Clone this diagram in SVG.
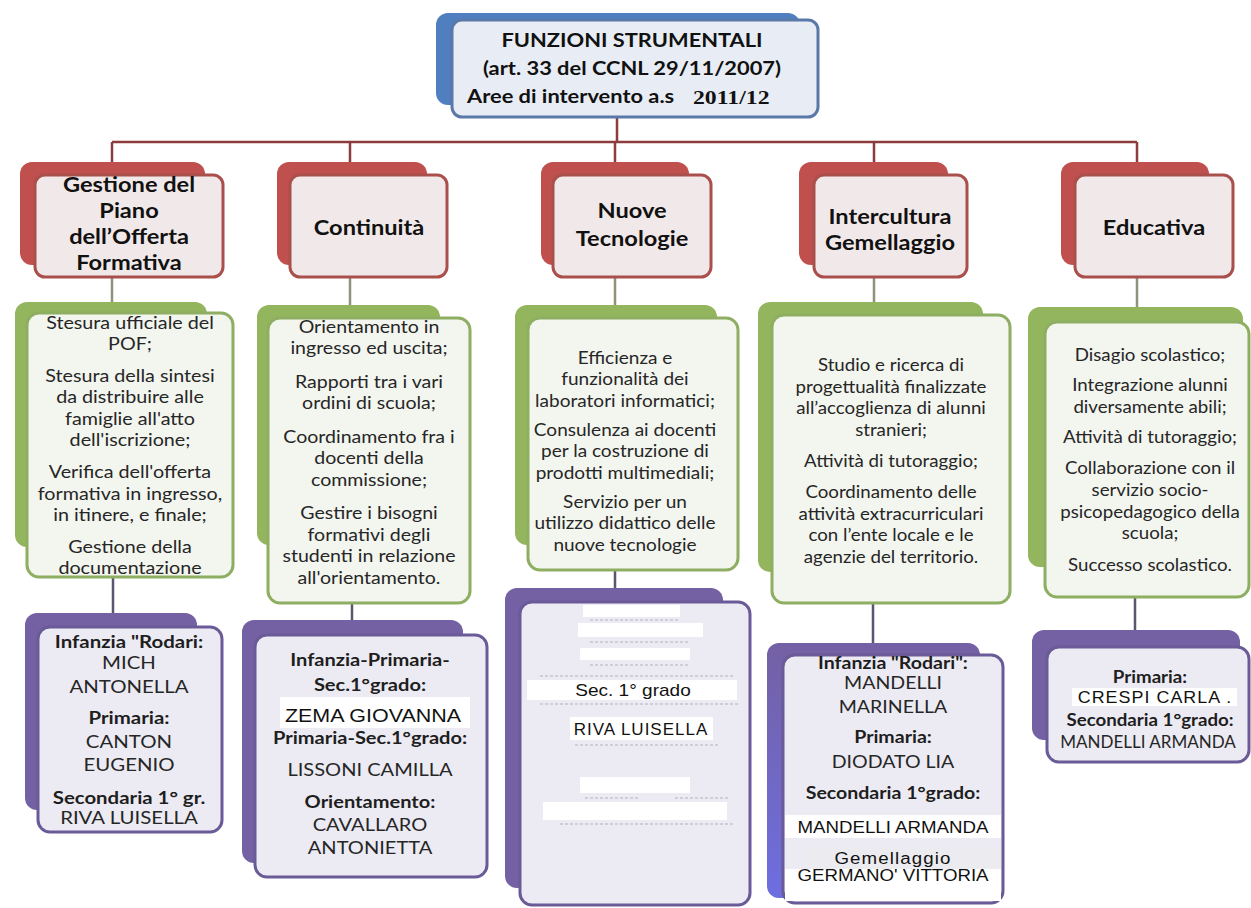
<svg xmlns="http://www.w3.org/2000/svg" width="1251" height="908" viewBox="0 0 1251 908">
<defs>
<style>
.tb{fill:#4f7fbe}
.tf{fill:#e8edf5;stroke:#5a78a8;stroke-width:3}
.hb{fill:#c0504d}
.hf{fill:#f1e9e9;stroke:#a94f4c;stroke-width:3}
.gb{fill:#93b55e}
.gf{fill:#f3f5ef;stroke:#8eae62;stroke-width:3}
.pb{fill:#7461a4}
.pf{fill:#ecebf3;stroke:#6a5a98;stroke-width:3}
.wr{fill:#ffffff}
.c1{stroke:#8c3c3c;stroke-width:2.5;fill:none}
.c2{stroke:#8a957a;stroke-width:2.5;fill:none}
.c3{stroke:#5d5470;stroke-width:2.5;fill:none}
.t{font-family:Lato,"Open Sans",sans-serif;font-weight:700;font-size:19px;fill:#111}
.h{font-family:Lato,"Open Sans",sans-serif;font-weight:700;font-size:20px;fill:#111;text-anchor:middle}
.b{font-family:Lato,"Open Sans",sans-serif;font-size:17px;fill:#262626;text-anchor:middle}
.bb{font-family:Lato,"Open Sans",sans-serif;font-weight:700;font-size:17px;fill:#1e1e1e;text-anchor:middle}
.a{font-family:"Liberation Sans",Arial,sans-serif;font-size:17px;fill:#111;text-anchor:middle}
.ser{font-family:"Liberation Serif","Times New Roman",serif;font-weight:700;font-size:19px;fill:#111}
.fl{stroke:#cfcfdb;stroke-width:2;stroke-dasharray:3 2;fill:none}
</style>
<linearGradient id="p4" x1="0" y1="0" x2="0" y2="1">
<stop offset="0" stop-color="#7461a4"/>
<stop offset="1" stop-color="#6d6ee0"/>
</linearGradient>
</defs>
<rect width="1251" height="908" fill="#ffffff"/>

<g id="connectors">
<path class="c1" d="M617 117 V142 M112 142 H1137 M112 142 V162 M350 142 V162 M615 142 V162 M874 142 V162 M1137 142 V162"/>
<path class="c2" d="M112 277 V302 M350 277 V305 M615 277 V305 M874 277 V302 M1137 277 V307"/>
<path class="c3" d="M113 577 V613 M352 603 V620 M615 570 V588 M873 603 V643 M1135 597 V630"/>
</g>

<g id="top">
<rect class="tb" x="436" y="13" width="364" height="92" rx="12"/>
<rect class="tf" x="452" y="20" width="366" height="97" rx="10"/>
<g transform="translate(632,0) scale(1.15,1)">
<text class="t" x="0" y="47" text-anchor="middle">FUNZIONI STRUMENTALI</text>
<text class="t" x="0" y="75" text-anchor="middle">(art. 33 del CCNL 29/11/2007)</text>
</g>
<g transform="translate(467,0) scale(1.15,1)">
<text class="t" x="0" y="103">Aree di intervento a.s</text>
</g>
<g transform="translate(693,0) scale(1.25,1)">
<text class="ser" x="0" y="104">2011/12</text>
</g>
</g>

<g id="h1">
<rect class="hb" x="20" y="162" width="185" height="103" rx="12"/>
<rect class="hf" x="35" y="175" width="188" height="102" rx="10"/>
<g transform="translate(129,0) scale(1.18,1)">
<text class="h" x="0" y="192">Gestione del</text>
<text class="h" x="0" y="218">Piano</text>
<text class="h" x="0" y="244">dell’Offerta</text>
<text class="h" x="0" y="270">Formativa</text>
</g>
</g>
<g id="h2">
<rect class="hb" x="277" y="162" width="150" height="103" rx="12"/>
<rect class="hf" x="290" y="175" width="157" height="102" rx="10"/>
<g transform="translate(369,0) scale(1.18,1)">
<text class="h" x="0" y="235">Continuità</text>
</g>
</g>
<g id="h3">
<rect class="hb" x="541" y="162" width="148" height="103" rx="12"/>
<rect class="hf" x="553" y="175" width="158" height="102" rx="10"/>
<g transform="translate(632,0) scale(1.18,1)">
<text class="h" x="0" y="218">Nuove</text>
<text class="h" x="0" y="246">Tecnologie</text>
</g>
</g>
<g id="h4">
<rect class="hb" x="799" y="162" width="149" height="103" rx="12"/>
<rect class="hf" x="814" y="175" width="153" height="102" rx="10"/>
<g transform="translate(890,0) scale(1.18,1)">
<text class="h" x="0" y="224">Intercultura</text>
<text class="h" x="0" y="250">Gemellaggio</text>
</g>
</g>
<g id="h5">
<rect class="hb" x="1061" y="162" width="148" height="103" rx="12"/>
<rect class="hf" x="1075" y="175" width="158" height="102" rx="10"/>
<g transform="translate(1154,0) scale(1.18,1)">
<text class="h" x="0" y="235">Educativa</text>
</g>
</g>

<g id="g1">
<rect class="gb" x="15" y="302" width="192" height="245" rx="12"/>
<rect class="gf" x="27" y="313" width="206" height="264" rx="12"/>
<g transform="translate(130,0) scale(1.16,1)">
<text class="b" x="0" y="329">Stesura ufficiale del</text>
<text class="b" x="0" y="350">POF;</text>
<text class="b" x="0" y="382">Stesura della sintesi</text>
<text class="b" x="0" y="403">da distribuire alle</text>
<text class="b" x="0" y="425">famiglie all'atto</text>
<text class="b" x="0" y="446">dell'iscrizione;</text>
<text class="b" x="0" y="478">Verifica dell'offerta</text>
<text class="b" x="0" y="500">formativa in ingresso,</text>
<text class="b" x="0" y="521">in itinere, e finale;</text>
<text class="b" x="0" y="553">Gestione della</text>
<text class="b" x="0" y="574">documentazione</text>
</g>
</g>
<g id="g2">
<rect class="gb" x="257" y="305" width="183" height="240" rx="12"/>
<rect class="gf" x="268" y="318" width="202" height="285" rx="12"/>
<g transform="translate(369,0) scale(1.15,1)">
<text class="b" x="0" y="333">Orientamento in</text>
<text class="b" x="0" y="354">ingresso ed uscita;</text>
<text class="b" x="0" y="388">Rapporti tra i vari</text>
<text class="b" x="0" y="409">ordini di scuola;</text>
<text class="b" x="0" y="443">Coordinamento fra i</text>
<text class="b" x="0" y="464">docenti della</text>
<text class="b" x="0" y="486">commissione;</text>
<text class="b" x="0" y="519">Gestire i bisogni</text>
<text class="b" x="0" y="541">formativi degli</text>
<text class="b" x="0" y="562">studenti in relazione</text>
<text class="b" x="0" y="584">all'orientamento.</text>
</g>
</g>
<g id="g3">
<rect class="gb" x="515" y="305" width="202" height="240" rx="12"/>
<rect class="gf" x="528" y="318" width="210" height="252" rx="12"/>
<g transform="translate(625,0) scale(1.12,1)">
<text class="b" x="0" y="364">Efficienza e</text>
<text class="b" x="0" y="385">funzionalità dei</text>
<text class="b" x="0" y="407">laboratori informatici;</text>
<text class="b" x="0" y="436">Consulenza ai docenti</text>
<text class="b" x="0" y="457">per la costruzione di</text>
<text class="b" x="0" y="479">prodotti multimediali;</text>
<text class="b" x="0" y="508">Servizio per un</text>
<text class="b" x="0" y="529">utilizzo didattico delle</text>
<text class="b" x="0" y="551">nuove tecnologie</text>
</g>
</g>
<g id="g4">
<rect class="gb" x="758" y="302" width="225" height="270" rx="12"/>
<rect class="gf" x="772" y="315" width="238" height="288" rx="12"/>
<g transform="translate(891,0) scale(1.1,1)">
<text class="b" x="0" y="371">Studio e ricerca di</text>
<text class="b" x="0" y="393">progettualità finalizzate</text>
<text class="b" x="0" y="414">all’accoglienza di alunni</text>
<text class="b" x="0" y="436">stranieri;</text>
<text class="b" x="0" y="467">Attività di tutoraggio;</text>
<text class="b" x="0" y="498">Coordinamento delle</text>
<text class="b" x="0" y="520">attività extracurriculari</text>
<text class="b" x="0" y="541">con l’ente locale e le</text>
<text class="b" x="0" y="563">agenzie del territorio.</text>
</g>
</g>
<g id="g5">
<rect class="gb" x="1028" y="307" width="215" height="260" rx="12"/>
<rect class="gf" x="1045" y="322" width="204" height="275" rx="12"/>
<g transform="translate(1150,0) scale(1.1,1)">
<text class="b" x="0" y="361">Disagio scolastico;</text>
<text class="b" x="0" y="391">Integrazione alunni</text>
<text class="b" x="0" y="413">diversamente abili;</text>
<text class="b" x="0" y="443">Attività di tutoraggio;</text>
<text class="b" x="0" y="474">Collaborazione con il</text>
<text class="b" x="0" y="496">servizio socio-</text>
<text class="b" x="0" y="518">psicopedagogico della</text>
<text class="b" x="0" y="539">scuola;</text>
<text class="b" x="0" y="571">Successo scolastico.</text>
</g>
</g>

<g id="p1">
<rect class="pb" x="25" y="613" width="172" height="197" rx="12"/>
<rect class="pf" x="38" y="627" width="184" height="205" rx="12"/>
<g transform="translate(129,0) scale(1.2,1)">
<text class="bb" x="0" y="648">Infanzia "Rodari:</text>
<text class="b" x="0" y="669">MICH</text>
<text class="b" x="0" y="693">ANTONELLA</text>
<text class="bb" x="0" y="724">Primaria:</text>
<text class="b" x="0" y="748">CANTON</text>
<text class="b" x="0" y="771">EUGENIO</text>
<text class="bb" x="0" y="804">Secondaria 1° gr.</text>
<text class="b" x="0" y="824">RIVA LUISELLA</text>
</g>
</g>
<g id="p2">
<rect class="pb" x="242" y="620" width="221" height="243" rx="12"/>
<rect class="pf" x="255" y="635" width="232" height="242" rx="12"/>
<rect class="wr" x="280" y="697" width="190" height="31"/>
<g transform="translate(370,0) scale(1.18,1)">
<text class="bb" x="0" y="666">Infanzia-Primaria-</text>
<text class="bb" x="0" y="691">Sec.1°grado:</text>
<text class="bb" x="0" y="744">Primaria-Sec.1°grado:</text>
<text class="b" x="0" y="776">LISSONI  CAMILLA</text>
<text class="bb" x="0" y="808">Orientamento:</text>
<text class="b" x="0" y="831">CAVALLARO</text>
<text class="b" x="0" y="854">ANTONIETTA</text>
</g>
<g transform="translate(373,0) scale(1.13,1)">
<text class="a" x="0" y="722" style="font-size:19px">ZEMA GIOVANNA</text>
</g>
</g>
<g id="p3">
<rect class="pb" x="505" y="588" width="218" height="300" rx="12"/>
<rect class="pf" x="520" y="602" width="230" height="303" rx="12"/>
<rect class="wr" x="583" y="605" width="97" height="12"/>
<rect class="wr" x="578" y="623" width="125" height="14"/>
<rect class="wr" x="580" y="648" width="110" height="12"/>
<rect class="wr" x="527" y="680" width="210" height="20"/>
<rect class="wr" x="570" y="717" width="143" height="23"/>
<rect class="wr" x="580" y="777" width="110" height="16"/>
<rect class="wr" x="543" y="802" width="184" height="18"/>
<path class="fl" d="M590 620 H680 M590 642 H690 M590 665 H690 M540 676 H735 M540 704 H740 M575 745 H720 M585 798 H640 M675 798 H730 M560 824 H735"/>
<g transform="translate(633,0) scale(1.12,1)">
<text class="a" x="0" y="696">Sec. 1° grado</text>
</g>
<g transform="translate(641,0)">
<text class="a" x="0" y="735" style="letter-spacing:1px">RIVA LUISELLA</text>
</g>
</g>
<g id="p4g">
<rect x="767" y="643" width="213" height="255" rx="12" fill="url(#p4)"/>
<rect class="pf" x="783" y="655" width="220" height="248" rx="12"/>
<rect class="wr" x="785" y="815" width="216" height="23"/>
<rect x="803" y="847" width="198" height="22" fill="#ecebf0"/>
<rect class="wr" x="785" y="869" width="216" height="32"/>
<g transform="translate(893,0) scale(1.15,1)">
<text class="bb" x="0" y="669">Infanzia "Rodari":</text>
<text class="b" x="0" y="689">MANDELLI</text>
<text class="b" x="0" y="713">MARINELLA</text>
<text class="bb" x="0" y="743">Primaria:</text>
<text class="b" x="0" y="768">DIODATO LIA</text>
<text class="bb" x="0" y="799">Secondaria 1°grado:</text>
</g>
<g transform="translate(893,0) scale(1.1,1)">
<text class="a" x="0" y="833">MANDELLI ARMANDA</text>
<text class="a" x="0" y="864" style="letter-spacing:1px">Gemellaggio</text>
<text class="a" x="0" y="881">GERMANO' VITTORIA</text>
</g>
</g>
<g id="p5">
<rect class="pb" x="1032" y="630" width="208" height="110" rx="12"/>
<rect class="pf" x="1047" y="647" width="202" height="115" rx="12"/>
<rect class="wr" x="1072" y="688" width="165" height="18"/>
<g transform="translate(1150,0) scale(1.1,1)">
<text class="bb" x="0" y="683">Primaria:</text>
<text class="bb" x="0" y="726">Secondaria 1°grado:</text>
</g>
<g transform="translate(1148,0) scale(1.0,1)">
<text class="b" x="0" y="748">MANDELLI ARMANDA</text>
</g>
<g transform="translate(1155,0) scale(1.05,1)">
<text class="a" x="0" y="703" style="letter-spacing:1px">CRESPI CARLA .</text>
</g>
</g>
</svg>
